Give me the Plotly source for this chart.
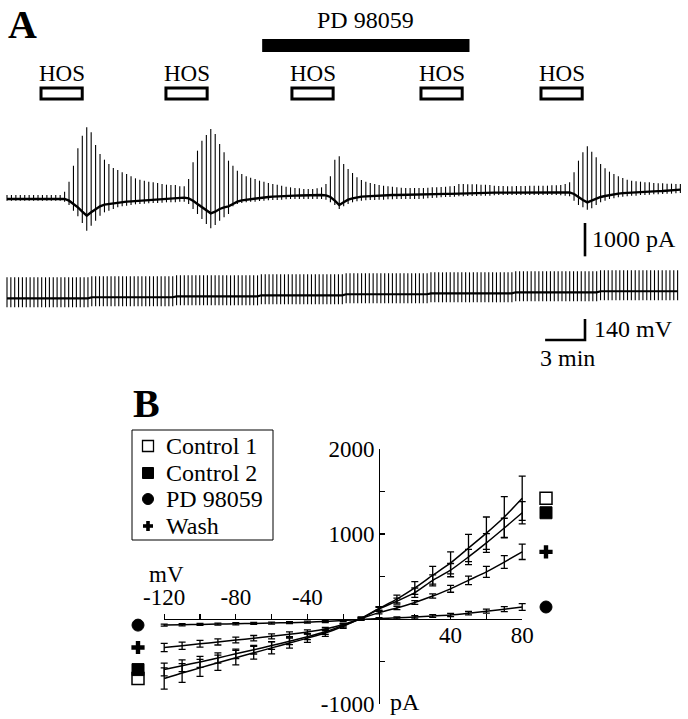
import numpy as np
import plotly.graph_objects as go

W, H = 688, 719
FONT = "Liberation Serif"

# ======================= DATA =======================
# ---- Panel A: membrane current, one voltage ramp every 20 s ----
ramp_interval_min = 1 / 3
# ramp current maxima (pA)
cur_top_pA = (
    [120] * 13
    + [220, 520, 1000, 1520, 1900, 2150, 2000, 1620, 1350, 1180, 1050, 930, 870, 800,
       750, 680, 620, 580, 550, 520, 500, 480, 450, 430, 420, 420, 380, 380]
    + [600, 1100, 1450, 1750, 1920, 2100, 1950, 1650, 1400, 1150]
    + [1000, 850, 750, 680, 640, 600, 550, 520, 480, 450, 430, 400, 370, 350, 330, 320,
       300, 300, 300, 320, 350, 450]
    + [680, 1180, 1280, 1050, 900, 780, 650, 570, 520, 480, 450, 420, 400, 380, 370, 350,
       340, 330, 330, 330, 330, 330, 340, 350, 350, 360, 370, 380, 390]
    + [450, 450, 440, 440, 440, 430, 430, 420, 400, 390, 390, 380, 380, 390, 390, 390, 400,
       400, 400, 400, 400, 410, 410, 420, 450]
    + [500, 800, 1150, 1400, 1580, 1420, 1250, 1050, 920, 820, 750, 680, 630, 580, 550, 530,
       520, 500, 500, 480, 470, 470, 460, 460, 450, 450]
)
# ramp current minima (pA)
cur_bottom_pA = (
    [-50] * 13
    + [-80, -180, -350, -520, -720, -950, -800, -650, -500, -400, -350, -300, -250, -220,
       -200, -180, -160, -150, -140, -130, -120, -120, -110, -100, -100, -100, -80, -80]
    + [-150, -300, -450, -600, -750, -880, -780, -650, -550, -450]
    + [-220, -150, -120, -100, -80, -80, -60, -50, -40, -30, -30, -20, -10, 0, 0, 0, 0, 0,
       0, 0, 0, -20]
    + [-100, -180, -300, -220, -150, -100, -70, -50, -40, -30, -30, -20, -20, -10, -10, 0,
       0, 0, 0, 0, 0, 10, 20, 30, 40, 50, 60, 60, 70]
    + [80, 80, 90, 90, 90, 100, 100, 100, 110, 120, 120, 120, 120, 120, 120, 120, 120, 120,
       120, 120, 120, 120, 120, 110, 100]
    + [80, -50, -180, -250, -320, -280, -180, -100, -50, 0, 20, 50, 70, 80, 100, 100, 120,
       120, 130, 140, 140, 150, 160, 160, 170, 180]
)
# holding current between ramps (pA)
cur_base_pA = (
    [0] * 13
    + [0, -50, -150, -250, -380, -500, -400, -300, -220, -170, -150, -120, -100, -90, -80,
       -70, -60, -50, -40, -30, -20, -10, 0, 10, 20, 30, 40, 40]
    + [20, -50, -150, -250, -330, -430, -380, -300, -250, -220]
    + [-150, -80, -40, -20, 0, 20, 40, 50, 60, 70, 80, 90, 95, 100, 100, 105, 110, 110, 115,
       115, 120, 110]
    + [60, -50, -180, -100, -20, 20, 50, 70, 80, 90, 100, 105, 110, 115, 120, 120, 125, 130,
       130, 135, 135, 140, 140, 145, 150, 150, 155, 155, 160]
    + [170, 172, 175, 178, 180, 182, 185, 188, 190, 190, 192, 195, 195, 198, 200, 200, 200,
       200, 200, 200, 200, 200, 200, 195, 190]
    + [200, 150, 50, -30, -100, -50, 20, 60, 90, 120, 140, 160, 175, 185, 195, 200, 210, 215,
       220, 225, 235, 240, 250, 260, 270, 280]
)

# ---- Panel A: command voltage ----
vm_interval_min = 0.29
vm_hold_mV = ([-60] * 22 + [-53] * 22 + [-47] * 22 + [-40] * 22 + [-33] * 22
              + [-27] * 22 + [-20] * 22 + [-13] * 21)
vm_ramp_rel_mV = [140, -60]          # ramp end points relative to holding (+80 / -120 mV)

hos_start_min = [2.56, 11.96, 21.44, 31.15, 40.18]
hos_duration_min = 3.1
pd_period_min = [19.2, 34.8]

scale_pA = 1000
scale_mV = 140
scale_min = 3

# ---- Panel B: I-V relations ----
iv_mV = [-120, -110, -100, -90, -80, -70, -60, -50, -40, -30, -20, -10,
         0, 10, 20, 30, 40, 50, 60, 70, 80]
series_names = ["Control 1", "Control 2", "PD 98059", "Wash"]
ctrl1_pA = [-700, -635, -575, -515, -455, -398, -340, -283, -225, -165, -85, 10,
            125, 235, 365, 515, 660, 835, 1010, 1200, 1420]
ctrl1_err = [125, 110, 100, 90, 85, 75, 70, 60, 50, 40, 25, 15,
             20, 45, 75, 105, 130, 160, 190, 240, 260]
ctrl2_pA = [-595, -550, -505, -458, -410, -362, -312, -262, -208, -150, -75, 5,
            118, 210, 310, 455, 575, 730, 895, 1070, 1250]
ctrl2_err = [75, 70, 65, 60, 55, 50, 45, 40, 35, 30, 20, 15,
             20, 35, 55, 65, 78, 90, 110, 115, 130]
pd_pA = [-72, -68, -64, -60, -56, -52, -48, -43, -37, -29, -18, -5,
         5, 14, 24, 35, 47, 68, 92, 116, 141]
pd_err = [12, 12, 12, 12, 12, 12, 12, 12, 12, 12, 10, 10,
          10, 12, 14, 16, 18, 20, 24, 29, 39]
wash_pA = [-335, -315, -292, -270, -248, -226, -204, -180, -152, -118, -65, 5,
           75, 130, 195, 270, 355, 455, 555, 670, 790]
wash_err = [48, 42, 40, 36, 34, 32, 30, 28, 25, 20, 15, 10,
            15, 20, 22, 25, 40, 50, 65, 75, 90]

# ======================= LAYOUT HELPERS =======================
def fx(px):
    return px / W


def fy(py):
    return 1 - py / H


# panel A pixel scales
A_T0_PX, A_PX_PER_MIN = 7.0, 13.29
A_I0_PX, A_PA_PER_PX = 199.0, 30.0
V_REF_PX, V_REF_MV, V_MV_PER_PX = 298.3, -60.0, 6.67
t_range = [(0 - A_T0_PX) / A_PX_PER_MIN, (W - A_T0_PX) / A_PX_PER_MIN]

# panel B pixel scales
B_X0, B_PX_PER_MV = 379.0, 1.79
B_Y0, B_PX_PER_PA = 619.0, 0.085


def b_mv(px):
    return (px - B_X0) / B_PX_PER_MV


fig = go.Figure()

# ---------- Panel A traces ----------
t_cur = np.arange(len(cur_top_pA)) * ramp_interval_min
sx, sy = [], []
for t, lo, hi in zip(t_cur, cur_bottom_pA, cur_top_pA):
    sx += [t, t, None]
    sy += [lo, hi, None]
fig.add_trace(go.Scatter(x=sx, y=sy, mode="lines", line=dict(color="black", width=1.1),
                         xaxis="x", yaxis="y", showlegend=False, hoverinfo="skip"))
fig.add_trace(go.Scatter(x=t_cur, y=cur_base_pA, mode="lines",
                         line=dict(color="black", width=2.4),
                         xaxis="x", yaxis="y", showlegend=False, hoverinfo="skip"))

t_vm = np.arange(len(vm_hold_mV)) * vm_interval_min
vx, vy = [], []
for t, h in zip(t_vm, vm_hold_mV):
    vx += [t, t, None]
    vy += [h + vm_ramp_rel_mV[1], h + vm_ramp_rel_mV[0], None]
fig.add_trace(go.Scatter(x=vx, y=vy, mode="lines", line=dict(color="black", width=1.1),
                         xaxis="x2", yaxis="y2", showlegend=False, hoverinfo="skip"))
fig.add_trace(go.Scatter(x=t_vm, y=vm_hold_mV, mode="lines",
                         line=dict(color="black", width=2.2),
                         xaxis="x2", yaxis="y2", showlegend=False, hoverinfo="skip"))

# scale bars (data units)
sb_t = (585 - A_T0_PX) / A_PX_PER_MIN
sb_i_top = (A_I0_PX - 223) * A_PA_PER_PX
fig.add_trace(go.Scatter(x=[sb_t, sb_t], y=[sb_i_top, sb_i_top - scale_pA], mode="lines",
                         line=dict(color="black", width=2.6), xaxis="x", yaxis="y",
                         showlegend=False, hoverinfo="skip"))
sb_v_bot = V_REF_MV - (340 - V_REF_PX) * V_MV_PER_PX
fig.add_trace(go.Scatter(x=[sb_t - scale_min, sb_t, sb_t],
                         y=[sb_v_bot, sb_v_bot, sb_v_bot + scale_mV], mode="lines",
                         line=dict(color="black", width=2.6), xaxis="x2", yaxis="y2",
                         showlegend=False, hoverinfo="skip"))

# ---------- Panel B traces ----------
series = [(ctrl1_pA, ctrl1_err), (ctrl2_pA, ctrl2_err), (pd_pA, pd_err), (wash_pA, wash_err)]
for name, (vals, err) in zip(series_names, series):
    fig.add_trace(go.Scatter(
        x=iv_mV, y=vals, mode="lines", name=name,
        line=dict(color="black", width=1.5, shape="spline", smoothing=0.6),
        error_y=dict(type="data", array=err, visible=True, color="black",
                     thickness=1.3, width=3.5),
        xaxis="x3", yaxis="y3", showlegend=False, hoverinfo="skip"))

marker_styles = [
    dict(symbol="square", size=12, color="white", line=dict(color="black", width=1.5)),
    dict(symbol="square", size=12, color="black", line=dict(color="black", width=1)),
    dict(symbol="circle", size=12, color="black", line=dict(color="black", width=1)),
    dict(symbol="cross", size=11, color="black", line=dict(color="black", width=0)),
]
end_x = [b_mv(138), b_mv(546)]
for name, (vals, _), mk in zip(series_names, series, marker_styles):
    fig.add_trace(go.Scatter(x=end_x, y=[vals[0], vals[-1]], mode="markers", marker=mk,
                             name=name, xaxis="x3", yaxis="y3", showlegend=False,
                             hoverinfo="skip", cliponaxis=False))

# dummy traces to create the two visible mV axes
for ax in ["x4", "x5"]:
    fig.add_trace(go.Scatter(x=[None], y=[None], xaxis=ax, yaxis="y3",
                             showlegend=False, hoverinfo="skip"))

# ---------- Shapes (stimulus bars, legend box) ----------
shapes = [dict(type="rect", xref="x", yref="paper",
               x0=pd_period_min[0], x1=pd_period_min[1], y0=fy(52), y1=fy(39),
               fillcolor="black", line=dict(width=0))]
for s in hos_start_min:
    shapes.append(dict(type="rect", xref="x", yref="paper", x0=s, x1=s + hos_duration_min,
                       y0=fy(99), y1=fy(88), fillcolor="white",
                       line=dict(color="black", width=3)))

# legend (box, keys, labels)
LEG_L, LEG_R, LEG_T, LEG_B = 132, 273, 430, 540
leg_rows = [446, 473, 499, 526]
KEY_X, KEY_H = 148, 5.5
shapes.append(dict(type="rect", xref="paper", yref="paper", x0=fx(LEG_L), x1=fx(LEG_R),
                   y0=fy(LEG_B), y1=fy(LEG_T), line=dict(color="black", width=1),
                   fillcolor="rgba(0,0,0,0)"))
shapes.append(dict(type="rect", xref="paper", yref="paper",
                   x0=fx(KEY_X - KEY_H), x1=fx(KEY_X + KEY_H),
                   y0=fy(leg_rows[0] + KEY_H), y1=fy(leg_rows[0] - KEY_H),
                   line=dict(color="black", width=1.3), fillcolor="white"))
shapes.append(dict(type="rect", xref="paper", yref="paper",
                   x0=fx(KEY_X - KEY_H), x1=fx(KEY_X + KEY_H),
                   y0=fy(leg_rows[1] + KEY_H), y1=fy(leg_rows[1] - KEY_H),
                   line=dict(color="black", width=1), fillcolor="black"))
shapes.append(dict(type="circle", xref="paper", yref="paper",
                   x0=fx(KEY_X - KEY_H), x1=fx(KEY_X + KEY_H),
                   y0=fy(leg_rows[2] + KEY_H), y1=fy(leg_rows[2] - KEY_H),
                   line=dict(color="black", width=1), fillcolor="black"))
shapes.append(dict(type="rect", xref="paper", yref="paper",
                   x0=fx(KEY_X - 5), x1=fx(KEY_X + 5),
                   y0=fy(leg_rows[3] + 1.8), y1=fy(leg_rows[3] - 1.8),
                   line=dict(width=0), fillcolor="black"))
shapes.append(dict(type="rect", xref="paper", yref="paper",
                   x0=fx(KEY_X - 1.8), x1=fx(KEY_X + 1.8),
                   y0=fy(leg_rows[3] + 5), y1=fy(leg_rows[3] - 5),
                   line=dict(width=0), fillcolor="black"))

# ---------- Annotations ----------
def ann(text, x, y, size=24, xanchor="center", xref="paper", bold=False):
    return dict(text=f"<b>{text}</b>" if bold else text, x=x, y=y, xref=xref, yref="paper",
                xanchor=xanchor, yanchor="middle", showarrow=False,
                font=dict(family=FONT, size=size, color="black"))


annotations = [
    ann("A", fx(6), fy(24), size=40, xanchor="left", bold=True),
    ann("PD 98059", fx(366), fy(20), size=24),
    ann("1000 pA", fx(590), fy(239), size=24, xanchor="left"),
    ann("140 mV", fx(592), fy(329), size=24, xanchor="left"),
    ann("3 min", fx(567), fy(358), size=24),
    ann("B", fx(131), fy(403), size=40, xanchor="left", bold=True),
    ann("mV", fx(166), fy(574), size=23),
    ann("pA", fx(388), fy(702), size=24, xanchor="left"),
]
for s in hos_start_min:
    annotations.append(ann("HOS", s + hos_duration_min / 2, fy(73), size=23, xref="x"))
for name, row in zip(series_names, leg_rows):
    annotations.append(ann(name, fx(164), fy(row), size=24, xanchor="left"))

tickfont = dict(family=FONT, size=23, color="black")
hidden = dict(visible=False, showgrid=False, zeroline=False, automargin=False)

fig.update_layout(
    template="none",
    width=W, height=H, autosize=False,
    margin=dict(l=0, r=0, t=0, b=0, pad=0, autoexpand=False),
    paper_bgcolor="white", plot_bgcolor="rgba(0,0,0,0)",
    font=dict(family=FONT, color="black"),
    showlegend=False,
    shapes=shapes, annotations=annotations,
    xaxis=dict(domain=[0, 1], range=t_range, anchor="y", **hidden),
    yaxis=dict(domain=[fy(300), fy(110)],
               range=[(A_I0_PX - 300) * A_PA_PER_PX, (A_I0_PX - 110) * A_PA_PER_PX],
               anchor="x", **hidden),
    xaxis2=dict(domain=[0, 1], range=t_range, anchor="y2", **hidden),
    yaxis2=dict(domain=[fy(350), fy(255)],
                range=[V_REF_MV - (350 - V_REF_PX) * V_MV_PER_PX,
                       V_REF_MV + (V_REF_PX - 255) * V_MV_PER_PX],
                anchor="x2", **hidden),
    xaxis3=dict(domain=[fx(130), fx(560)], range=[b_mv(130), b_mv(560)], anchor="y3",
                **hidden),
    yaxis3=dict(domain=[fy(B_Y0 + 1000 * B_PX_PER_PA), fy(B_Y0 - 2000 * B_PX_PER_PA)],
                range=[-1000, 2000], anchor="free", position=fx(B_X0), side="left",
                showline=True, linecolor="black", linewidth=1.3,
                ticks="inside", ticklen=5, tickwidth=1.3, tickcolor="black",
                tickvals=[-1000, -500, 0, 500, 1000, 1500, 2000],
                ticktext=["-1000", "", "", "", "1000", "", "2000"],
                tickfont=tickfont, showgrid=False, zeroline=False, automargin=False),
    xaxis4=dict(domain=[fx(B_X0 - 120 * B_PX_PER_MV), fx(B_X0 + 80 * B_PX_PER_MV)],
                range=[-120, 80], anchor="free", position=fy(B_Y0), side="top",
                showline=True, linecolor="black", linewidth=1.3,
                ticks="outside", ticklen=5, tickwidth=1.3, tickcolor="black",
                tickvals=[-120, -100, -80, -60, -40, -20],
                ticktext=["-120", "", "-80", "", "-40", ""],
                tickfont=tickfont, showgrid=False, zeroline=False, automargin=False),
    xaxis5=dict(domain=[fx(B_X0 - 120 * B_PX_PER_MV), fx(B_X0 + 80 * B_PX_PER_MV)],
                range=[-120, 80], anchor="free", position=fy(B_Y0), side="bottom",
                showline=False, ticks="inside", ticklen=5, tickwidth=1.3, tickcolor="black",
                tickvals=[20, 40, 60, 80], ticktext=["", "40", "", "80"],
                tickfont=tickfont, showgrid=False, zeroline=False, automargin=False),
)

fig.write_html("out.html",
               config={"displayModeBar": False, "staticPlot": True},
               post_script="document.body.style.margin='0px';"
                           "document.body.style.overflow='hidden';")
